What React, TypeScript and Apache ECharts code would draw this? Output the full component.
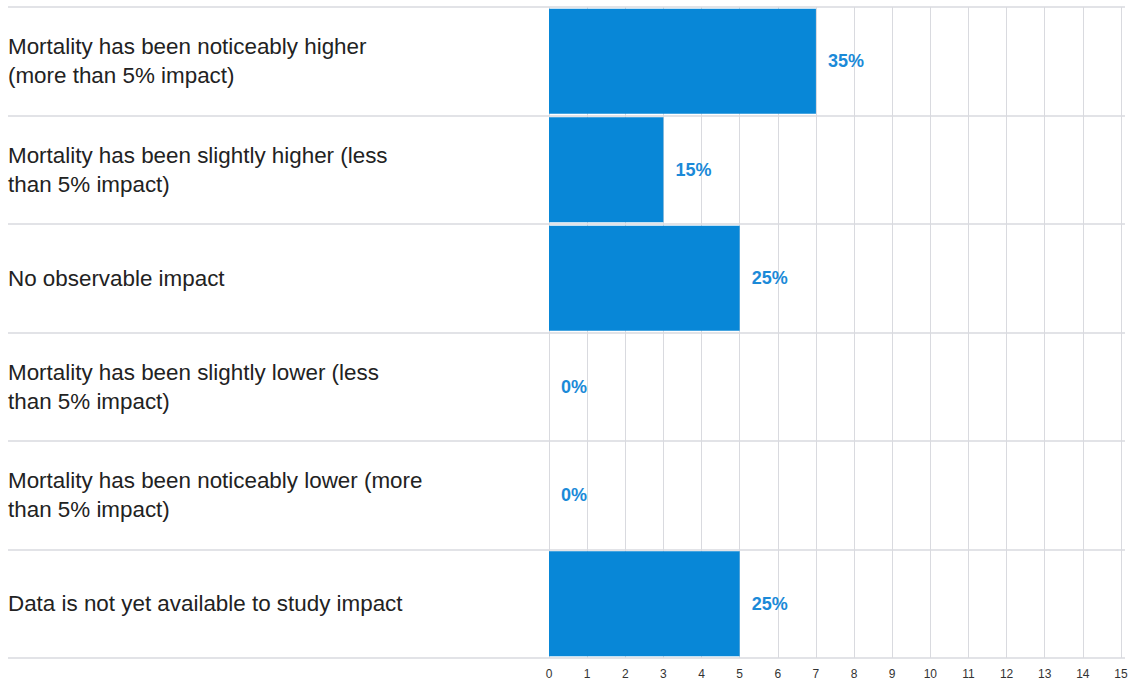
import React, { useEffect, useRef } from "react";
import * as echarts from "echarts";

const categories = [
  "Mortality has been noticeably higher\n(more than 5% impact)",
  "Mortality has been slightly higher (less\nthan 5% impact)",
  "No observable impact",
  "Mortality has been slightly lower (less\nthan 5% impact)",
  "Mortality has been noticeably lower (more\nthan 5% impact)",
  "Data is not yet available to study impact",
];
const counts = [7, 3, 5, 0, 0, 5];
const percentLabels = ["35%", "15%", "25%", "0%", "0%", "25%"];
const xMin = 0;
const xMax = 15;
const xInterval = 1;

export default function App() {
  const ref = useRef<HTMLDivElement>(null);
  useEffect(() => {
    if (!ref.current) return;
    const chart = echarts.init(ref.current, undefined, { renderer: "svg" });
    const gridLine = "#d9dadf";
    chart.setOption({
      animation: false,
      grid: [
        { left: 8, right: 8, top: 7, bottom: 25, containLabel: false },
        { left: 549, right: 12, top: 7, bottom: 25, containLabel: false },
      ],
      xAxis: [
        { gridIndex: 0, type: "value", show: false, min: 0, max: 1 },
        {
          gridIndex: 1,
          type: "value",
          min: xMin,
          max: xMax,
          interval: xInterval,
          axisLine: { show: false },
          axisTick: { show: false },
          axisLabel: {
            color: "#333",
            fontSize: 12,
            fontFamily: "Liberation Sans, Arial, sans-serif",
            margin: 10,
          },
          splitLine: { show: true, lineStyle: { color: gridLine, width: 1 } },
        },
      ],
      yAxis: [
        {
          gridIndex: 0,
          type: "category",
          data: categories,
          inverse: true,
          axisLine: { show: false },
          axisTick: { show: false },
          splitLine: { show: true, lineStyle: { color: gridLine, width: 1.5 } },
          axisLabel: {
            inside: true,
            margin: 0,
            align: "left",
            color: "#222",
            fontSize: 22.4,
            lineHeight: 29,
            fontFamily: "Liberation Sans, Arial, sans-serif",
          },
        },
        {
          gridIndex: 1,
          type: "category",
          data: categories,
          inverse: true,
          show: false,
        },
      ],
      series: [
        {
          type: "bar",
          xAxisIndex: 1,
          yAxisIndex: 1,
          data: counts,
          barCategoryGap: "3%",
          itemStyle: { color: "#0887d7" },
          label: {
            show: true,
            position: "right",
            distance: 12,
            color: "#1b8ad8",
            fontSize: 18,
            fontWeight: "bold",
            fontFamily: "Liberation Sans, Arial, sans-serif",
            formatter: (p: any) => percentLabels[p.dataIndex],
          },
        },
      ],
    });
    return () => chart.dispose();
  }, []);
  return (
    <div
      ref={ref}
      style={{ position: "fixed", left: 0, top: 0, width: 1133, height: 683, background: "#fff" }}
    />
  );
}
